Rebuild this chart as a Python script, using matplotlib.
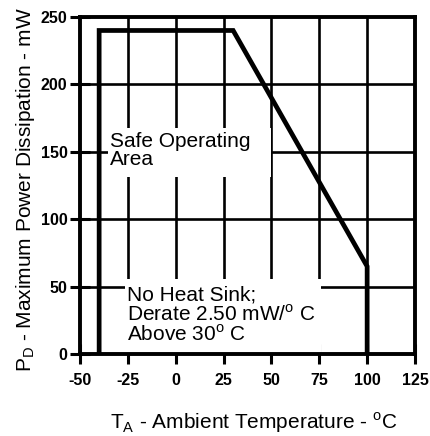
import matplotlib
matplotlib.use("Agg")
import matplotlib.pyplot as plt
from matplotlib.patches import Rectangle

# Data
temp_c = [-40, -40, 30, 100, 100]
power_mw = [0, 240, 240, 65, 0]
x_ticks = [-50, -25, 0, 25, 50, 75, 100, 125]
y_ticks = [0, 50, 100, 150, 200, 250]

plt.rcParams['font.family'] = ['Liberation Sans', 'DejaVu Sans']
plt.rcParams['mathtext.fontset'] = 'custom'
plt.rcParams['mathtext.rm'] = 'Liberation Sans'
plt.rcParams['axes.unicode_minus'] = False

W, H = 430, 436
fig = plt.figure(figsize=(W / 100, H / 100), dpi=100)
ax = fig.add_axes([80 / W, 1 - 354 / H, 335 / W, 337 / H])
ax.set_xlim(-50, 125)
ax.set_ylim(0, 250)

# grid
for xv in x_ticks[1:-1]:
    ax.axvline(xv, color='black', lw=1.9, zorder=1)
for yv in y_ticks[1:-1]:
    ax.axhline(yv, color='black', lw=1.9, zorder=1)

# white label areas that interrupt the grid
ax.add_patch(Rectangle((-35.4, 131), 85.0, 37, facecolor='white', edgecolor='none', zorder=2))
ax.add_patch(Rectangle((-26.5, 0), 102.5, 56, facecolor='white', edgecolor='none', zorder=2))

ax.plot(temp_c, power_mw, color='black', lw=3.4, zorder=4, solid_joinstyle='miter')

for s in ax.spines.values():
    s.set_linewidth(2.8)
    s.set_zorder(5)

ax.set_xticks(x_ticks)
ax.set_yticks(y_ticks)
ax.tick_params(direction='inout', length=14, width=2.2, labelsize=11.5)
ax.tick_params(axis='x', pad=7)
ax.tick_params(axis='y', pad=2)
for lab in ax.get_xticklabels() + ax.get_yticklabels():
    lab.set_fontweight('bold')

ax.text(-34.2, 151, "Safe Operating\nArea", fontsize=15, va='center', ha='left',
        linespacing=0.95, zorder=3)
ax.text(-25.3, 29, "No Heat Sink;\nDerate 2.50 mW/$^{\\rm o}$ C\nAbove 30$^{\\rm o}$ C",
        fontsize=15, va='center', ha='left', linespacing=0.97, zorder=3)

fig.text(254 / W, 1 - 429 / H, "T$_{\\rm A}$ - Ambient Temperature - $^{\\rm o}$C",
         fontsize=15, ha='center', va='baseline')
fig.text(26 / W, 1 - 190 / H, "P$_{\\rm D}$ - Maximum Power Dissipation - mW",
         fontsize=15, ha='center', va='center', rotation=90)

fig.savefig("out.png", dpi=100)
